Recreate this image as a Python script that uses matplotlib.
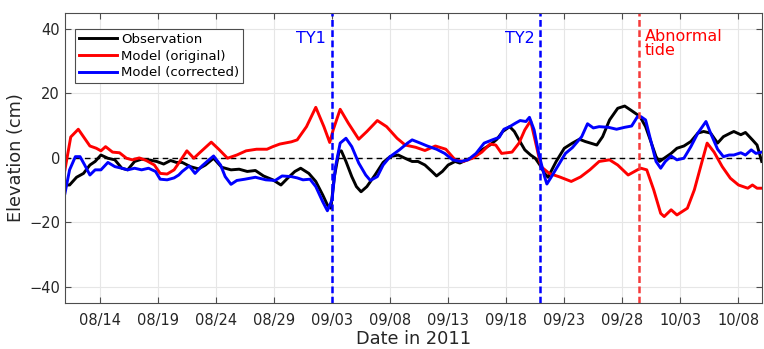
import numpy as np
import matplotlib
matplotlib.use('Agg')
import matplotlib.pyplot as plt
import matplotlib.dates as mdates
from datetime import datetime, timedelta

# days since 2011-08-11 00:00 and elevation (cm)
obs_t = [0, 0.4, 1.0, 1.6, 2.15, 2.6, 3.1, 3.7, 4.3, 4.9, 5.4, 6.0, 6.6, 7.2, 7.9, 8.5, 9.1, 9.6,
         10.1, 10.8, 11.5, 12.1, 12.8, 13.5, 14.3, 15.0, 15.7, 16.4, 17.1, 17.9, 18.6, 19.2, 19.8,
         20.3, 21.0, 21.6, 22.2, 22.6, 22.9, 23.2, 23.6, 23.8, 24.2, 24.7, 25.1, 25.5, 26.0, 26.7,
         27.4, 28.0, 28.7, 29.4, 29.9, 30.4, 31.0, 31.6, 32.0, 32.5, 33.0, 33.6, 34.0, 34.6, 35.3,
         35.9, 36.6, 37.2, 37.7, 38.3, 38.7, 39.1, 39.6, 40.1, 40.5, 40.9, 41.3, 41.6, 42.3, 43.0,
         43.7, 44.3, 44.8, 45.8, 46.3, 46.9, 47.6, 48.2, 48.7, 49.3, 49.6, 50.0, 50.5, 50.9, 51.2,
         51.6, 52.2, 52.7, 53.3, 53.9, 54.5, 55.0, 55.6, 56.2, 56.7, 57.3, 57.6, 58.2, 58.6, 59.2,
         59.6, 60.0]
obs_v = [-8.4, -8.4, -6.0, -4.8, -2.2, -1.1, 0.9, -0.1, -0.6, -3.2, -3.7, -1.1, -0.4, -0.6, -1.1,
         -1.9, -0.8, -1.4, -1.4, -2.7, -3.4, -2.2, -0.1, -2.9, -3.7, -3.5, -4.2, -3.9, -5.6, -6.8,
         -8.4, -6.2, -4.2, -3.2, -4.8, -7.3, -11.5, -14.6, -15.6, -5.8, 2.0, 2.2, -1.1, -5.8, -8.9,
         -10.5, -8.9, -5.3, -1.4, 0.4, 0.9, -0.3, -1.1, -1.1, -2.2, -4.2, -5.6, -4.2, -2.2, -1.1,
         -1.6, -0.6, 0.4, 2.5, 4.0, 5.8, 8.2, 9.7, 8.2, 5.6, 2.5, 0.9, -0.1, -2.2, -4.8, -6.0,
         -1.1, 3.0, 4.6, 5.8, 5.1, 4.0, 6.6, 11.8, 15.4, 16.1, 14.9, 13.4, 12.3, 9.7, 4.6, 0.4,
         -1.1, -0.1, 1.4, 3.0, 3.7, 5.1, 7.7, 8.2, 7.7, 4.6, 6.6, 7.7, 8.2, 7.2, 7.9, 5.6, 4.0,
         -1.1]

orig_t = [0, 0.5, 1.15, 2.15, 2.7, 3.1, 3.5, 4.1, 4.7, 5.3, 5.8, 6.4, 7.0, 7.7, 8.2, 8.8, 9.4,
          9.8, 10.5, 11.1, 11.6, 12.6, 13.3, 14.0, 14.8, 15.6, 16.5, 17.4, 17.9, 18.5, 19.5, 20.0,
          20.8, 21.6, 22.3, 22.8, 23.1, 23.7, 24.4, 25.3, 26.0, 26.9, 27.7, 28.6, 29.3, 30.2, 31.0,
          31.9, 32.8, 33.6, 34.3, 35.1, 35.9, 36.6, 37.1, 37.6, 38.5, 39.1, 39.6, 40.1, 40.6, 41.0,
          41.7, 42.6, 43.6, 44.4, 45.2, 46.0, 46.9, 47.6, 48.5, 49.3, 49.6, 50.1, 50.7, 51.3, 51.6,
          52.2, 52.7, 53.6, 54.2, 54.9, 55.3, 55.9, 56.6, 57.3, 58.0, 58.8, 59.2, 59.6, 60.0]
orig_v = [-3.7, 6.5, 8.9, 3.7, 3.0, 2.2, 3.5, 1.8, 1.6, -0.1, -0.6, 0.0, -0.8, -2.2, -4.8, -5.0,
          -3.7, -1.6, 2.2, -0.1, 1.6, 4.9, 2.5, -0.1, 0.9, 2.2, 2.7, 2.7, 3.5, 4.3, 5.0, 5.6, 9.7,
          15.7, 9.7, 4.8, 8.7, 15.1, 10.8, 5.8, 8.2, 11.6, 9.7, 6.1, 4.0, 3.3, 2.3, 3.7, 2.7, -0.6,
          -1.1, -0.1, 1.8, 4.3, 4.0, 1.4, 1.8, 4.6, 8.7, 11.5, 3.7, -2.7, -4.8, -5.9, -7.3, -5.9,
          -3.7, -1.1, -0.6, -2.2, -5.3, -3.7, -3.2, -3.7, -9.9, -17.2, -18.2, -16.1, -17.7, -15.6,
          -9.9, -0.6, 4.6, 1.8, -2.7, -6.3, -8.4, -9.4, -8.4, -9.4, -9.4]

corr_t = [0, 0.4, 0.9, 1.3, 1.7, 2.15, 2.6, 3.1, 3.7, 4.3, 4.9, 5.4, 6.0, 6.6, 7.2, 7.8, 8.2, 8.8,
          9.4, 9.8, 10.1, 10.7, 11.2, 11.8, 12.4, 12.8, 13.4, 13.8, 14.3, 14.8, 15.5, 16.4, 17.3,
          18.1, 18.7, 19.5, 20.0, 20.5, 21.1, 21.6, 22.2, 22.6, 23.0, 23.3, 23.7, 24.2, 24.7, 25.3,
          25.9, 26.3, 26.9, 27.4, 28.0, 28.8, 29.5, 29.9, 30.6, 31.2, 32.0, 32.7, 33.4, 34.1, 34.7,
          35.4, 36.1, 36.8, 37.4, 37.8, 38.3, 38.8, 39.2, 39.7, 40.0, 40.4, 40.8, 41.3, 41.5, 41.9,
          42.5, 43.1, 43.7, 44.5, 45.0, 45.5, 46.0, 46.8, 47.5, 48.2, 48.8, 49.3, 49.6, 50.0, 50.5,
          50.9, 51.3, 51.7, 52.2, 52.7, 53.3, 53.9, 54.5, 55.2, 55.6, 56.2, 56.7, 57.2, 57.6, 58.2,
          58.6, 59.1, 59.5, 60.0]
corr_v = [-11.0, -3.7, 0.4, 0.4, -2.2, -5.3, -3.7, -3.7, -1.4, -2.7, -3.2, -3.7, -3.2, -3.7, -3.2,
          -4.2, -6.6, -6.8, -6.2, -5.3, -4.2, -2.5, -4.8, -2.5, -0.6, 0.6, -2.2, -5.8, -8.2, -7.0,
          -6.6, -6.0, -6.8, -7.0, -5.6, -5.8, -6.2, -6.8, -6.6, -8.9, -13.6, -16.4, -13.0, -2.7,
          4.6, 6.1, 3.5, -1.6, -5.3, -7.0, -5.8, -2.2, 0.4, 2.5, 4.6, 5.6, 4.6, 3.7, 2.7, 1.4, -0.6,
          -1.1, -0.6, 1.4, 4.6, 5.6, 6.4, 8.9, 9.7, 10.8, 11.6, 11.3, 12.6, 8.7, 1.4, -5.8, -8.1,
          -5.8, -2.2, 1.4, 3.2, 6.6, 10.6, 9.3, 9.7, 9.5, 8.9, 9.5, 9.9, 12.8, 12.8, 11.8, 4.6,
          -1.1, -3.2, -1.1, 0.6, -0.6, -0.1, 3.5, 7.7, 11.3, 7.7, 2.7, 0.4, 0.9, 0.9, 1.6, 0.9, 2.5,
          1.4, 1.8]

start = datetime(2011, 8, 11)
ty1 = datetime(2011, 9, 3)
ty2 = datetime(2011, 9, 20, 22)
abnormal = datetime(2011, 9, 29, 10)

def to_num(days):
    return mdates.date2num(start) + np.asarray(days)

txt = '#262626'
plt.rcParams['font.family'] = 'DejaVu Sans'

fig = plt.figure(figsize=(7.64, 3.49), dpi=100)
ax = fig.add_axes([0.085, 0.132, 0.912, 0.831])

x0 = mdates.date2num(start)
x1 = mdates.date2num(datetime(2011, 10, 10))
ax.plot([x0, x1], [0, 0], '--', color='k', lw=1.0, dashes=(4, 3))

l1, = ax.plot(to_num(obs_t), obs_v, color='k', lw=2.1, label='Observation')
l2, = ax.plot(to_num(orig_t), orig_v, color='#ff0000', lw=2.1, label='Model (original)')
l3, = ax.plot(to_num(corr_t), corr_v, color='#0000ff', lw=2.1, label='Model (corrected)')

vdash = (0, (2.7, 1.4))
ax.axvline(mdates.date2num(ty1), color='#0000ff', lw=1.8, ls=vdash)
ax.axvline(mdates.date2num(ty2), color='#0000ff', lw=1.8, ls=vdash)
ax.axvline(mdates.date2num(abnormal), color='#f53a3a', lw=1.8, ls=vdash)

ax.text(mdates.date2num(ty1) - 0.5, 37, 'TY1', color='#0000ff', fontsize=11.5,
        ha='right', va='center')
ax.text(mdates.date2num(ty2) - 0.5, 37, 'TY2', color='#0000ff', fontsize=11.5,
        ha='right', va='center')
ax.text(mdates.date2num(abnormal) + 0.5, 40, 'Abnormal\ntide', color='#ff0000',
        fontsize=11.5, ha='left', va='top', linespacing=0.95)

ax.set_xlim(x0, x1)
ax.set_ylim(-45, 45)
ticks = [mdates.date2num(start + timedelta(days=3 + 5 * i)) for i in range(12)]
ax.set_xticks(ticks)
ax.xaxis.set_major_formatter(mdates.DateFormatter('%m/%d'))
ax.set_yticks([-40, -20, 0, 20, 40])
ax.grid(True, color='#e6e6e6', lw=0.8)
ax.set_axisbelow(True)
ax.tick_params(direction='in', top=True, right=True, length=4, colors='#4d4d4d',
               labelcolor=txt, labelsize=10.5)
ax.tick_params(axis='x', pad=7)
for s in ax.spines.values():
    s.set_color('#4d4d4d')
    s.set_linewidth(0.8)

ax.set_xlabel('Date in 2011', fontsize=12.8, color=txt, labelpad=2)
ax.set_ylabel('Elevation (cm)', fontsize=12.8, color=txt, labelpad=3)

leg = ax.legend(handles=[l1, l2, l3], loc='upper left', bbox_to_anchor=(0.014, 0.945),
                fontsize=9.5, handlelength=2.9, handletextpad=0.3, borderpad=0.3,
                labelspacing=0.28, fancybox=False, framealpha=1, borderaxespad=0)
leg.get_frame().set_edgecolor('#4d4d4d')
leg.get_frame().set_linewidth(0.8)

fig.savefig('out.png', dpi=100)
